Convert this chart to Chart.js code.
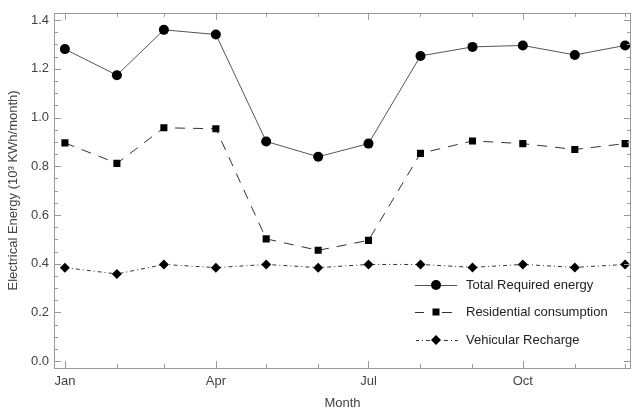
<!DOCTYPE html>
<html>
<head>
<meta charset="utf-8">
<script src="https://cdn.jsdelivr.net/npm/chart.js@4.4.1/dist/chart.umd.min.js"></script>
<style>
  html, body { margin: 0; padding: 0; background: #fff; }
  #wrap { width: 636px; height: 414px; }
</style>
</head>
<body>
<div id="wrap"><canvas id="grafico"></canvas></div>
<script>
// day of year for the first of each month
const days = [0, 31, 59, 90, 120, 151, 181, 212, 243, 273, 304, 334];
const months = ['Jan', 'Feb', 'Mar', 'Apr', 'May', 'Jun', 'Jul', 'Aug', 'Sep', 'Oct', 'Nov', 'Dec'];
const labeledMonths = ['Jan', 'Apr', 'Jul', 'Oct'];
const yTicks = [0, 0.2, 0.4, 0.6, 0.8, 1.0, 1.2, 1.4];

const total = [1.281, 1.174, 1.360, 1.341, 0.902, 0.839, 0.893, 1.253, 1.290, 1.296, 1.257, 1.296];
const residential = [0.896, 0.812, 0.958, 0.954, 0.502, 0.455, 0.496, 0.853, 0.904, 0.893, 0.869, 0.893];
const vehicular = [0.384, 0.358, 0.397, 0.384, 0.397, 0.384, 0.397, 0.397, 0.385, 0.397, 0.385, 0.397];

const names = ['Total Required energy', 'Residential consumption', 'Vehicular Recharge'];
const estilos = [
    { dash: [], point: 'circle', color: '#555' },
    { dash: [10, 8], point: 'rect', color: '#333' },
    { dash: [4, 3, 1, 3], point: 'rectRot', color: '#333' }
];
// legend line pieces (x from, x to) for each entry
const piezas = [
    [[415, 457]],
    [[415, 424], [442, 452]],
    [[416, 419], [422, 423], [426, 430], [444, 448], [451, 452], [455, 458]]
];

const FRAME = '#9a9a9a';
const TEXT = '#444';
const FONT = '"Liberation Sans", Arial, sans-serif';

function toPoints(vals) {
    return vals.map((v, i) => ({ x: days[i], y: v }));
}

function marker(ctx, style, x, y) {
    ctx.save();
    ctx.fillStyle = '#000';
    ctx.beginPath();
    if (style === 'circle') {
        ctx.arc(x, y, 5, 0, Math.PI * 2);
    } else if (style === 'rect') {
        ctx.rect(x - 3.5, y - 3.5, 7, 7);
    } else {
        ctx.moveTo(x, y - 5); ctx.lineTo(x + 5, y); ctx.lineTo(x, y + 5); ctx.lineTo(x - 5, y);
        ctx.closePath();
    }
    ctx.fill();
    ctx.restore();
}

// frame with inward ticks on all four sides, plus the legend box
const marco = {
    id: 'marco',
    afterDraw(chart) {
        const ctx = chart.ctx;
        const a = chart.chartArea;
        const xs = chart.scales.x, ys = chart.scales.y;
        ctx.save();
        ctx.strokeStyle = FRAME;
        ctx.lineWidth = 1;
        ctx.strokeRect(Math.round(a.left) + 0.5, Math.round(a.top) + 0.5,
            Math.round(a.right - a.left) - 1, Math.round(a.bottom - a.top));
        ctx.beginPath();
        days.forEach((d, i) => {
            const px = Math.round(xs.getPixelForValue(d)) + 0.5;
            const len = labeledMonths.includes(months[i]) ? 7 : 4;
            ctx.moveTo(px, a.bottom); ctx.lineTo(px, a.bottom - len);
            ctx.moveTo(px, a.top); ctx.lineTo(px, a.top + len);
        });
        for (let k = 0; k <= 28; k++) {
            const v = k * 0.05;
            const py = Math.round(ys.getPixelForValue(v)) + 0.5;
            const len = k % 4 === 0 ? 7 : 4;
            ctx.moveTo(a.left, py); ctx.lineTo(a.left + len, py);
            ctx.moveTo(a.right, py); ctx.lineTo(a.right - len, py);
        }
        ctx.stroke();

        // legend
        ctx.font = '13px ' + FONT;
        ctx.textBaseline = 'middle';
        const filas = [285, 312, 340];
        names.forEach((n, i) => {
            const y = filas[i];
            ctx.strokeStyle = estilos[i].color;
            ctx.beginPath();
            piezas[i].forEach(p => { ctx.moveTo(p[0], y + 0.5); ctx.lineTo(p[1], y + 0.5); });
            ctx.stroke();
            marker(ctx, estilos[i].point, 436, y);
            ctx.fillStyle = '#222';
            ctx.fillText(n, 466, y);
        });
        ctx.restore();
    }
};

const series = [total, residential, vehicular];

const ctx = document.getElementById('grafico').getContext('2d');
const grafico = new Chart(ctx, {
    type: 'line',
    data: {
        datasets: series.map((s, i) => ({
            label: names[i],
            data: toPoints(s),
            borderColor: estilos[i].color,
            borderWidth: 1,
            borderDash: estilos[i].dash,
            pointStyle: estilos[i].point,
            pointRadius: 5,
            pointBackgroundColor: '#000',
            pointBorderColor: '#000',
            pointBorderWidth: 0,
            tension: 0,
            fill: false
        }))
    },
    options: {
        responsive: true,
        maintainAspectRatio: false,
        animation: false,
        layout: { padding: { top: 7, right: 1, left: 0, bottom: 0 } },
        plugins: {
            legend: { display: false },
            tooltip: { enabled: false }
        },
        scales: {
            x: {
                type: 'linear',
                min: -6.5,
                max: 337.5,
                grid: { display: false, drawTicks: false },
                border: { display: false },
                afterBuildTicks: (scale) => {
                    scale.ticks = labeledMonths.map(m => ({ value: days[months.indexOf(m)] }));
                },
                afterFit: (scale) => { scale.height = 46; },
                ticks: {
                    autoSkip: false,
                    maxRotation: 0,
                    padding: 6,
                    color: TEXT,
                    font: { family: FONT, size: 13 },
                    callback: (v) => months[days.indexOf(v)]
                },
                title: {
                    display: true,
                    text: 'Month',
                    color: TEXT,
                    font: { family: FONT, size: 13 },
                    padding: { top: 0, bottom: 3 }
                }
            },
            y: {
                min: -0.028,
                max: 1.43,
                grid: { display: false, drawTicks: false },
                border: { display: false },
                afterBuildTicks: (scale) => {
                    scale.ticks = yTicks.map(v => ({ value: v }));
                },
                afterFit: (scale) => { scale.width = 54; },
                ticks: {
                    padding: 5,
                    color: TEXT,
                    font: { family: FONT, size: 13 },
                    callback: (v) => v.toFixed(1)
                },
                title: {
                    display: true,
                    text: 'Electrical Energy (10³ KWh/month)',
                    color: TEXT,
                    font: { family: FONT, size: 13 },
                    padding: { top: 6, bottom: 0 }
                }
            }
        }
    },
    plugins: [marco]
});
</script>
</body>
</html>
